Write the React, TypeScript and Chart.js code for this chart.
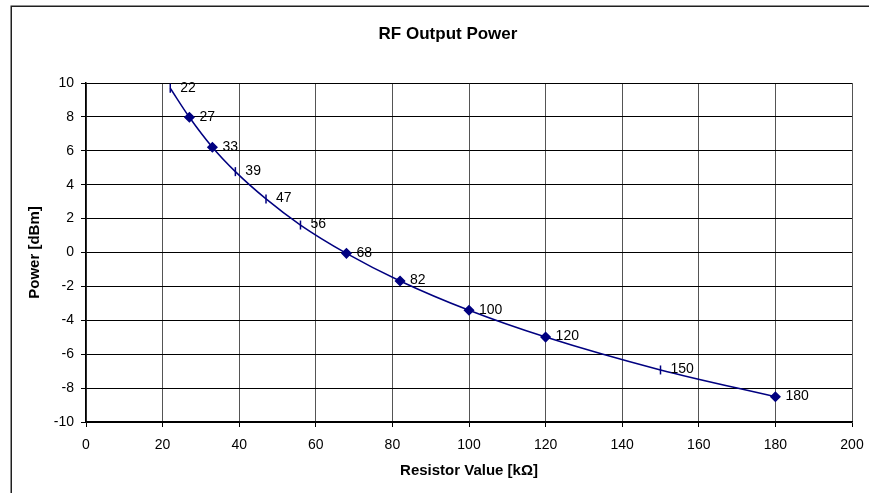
import React, { useEffect, useRef } from "react";
import { Chart, registerables } from "chart.js";

Chart.register(...registerables);

const resistorValues = [22, 27, 33, 39, 47, 56, 68, 82, 100, 120, 150, 180];
const powerValues = [9.69, 7.98, 6.21, 4.77, 3.16, 1.62, -0.05, -1.68, -3.41, -4.99, -6.93, -8.51];
const diamondMarked = [false, true, true, false, false, false, true, true, true, true, false, true];
const pointLabels = resistorValues.map((v) => String(v));

const chartTitle = "RF Output Power";
const xTitle = "Resistor Value [kΩ]";
const yTitle = "Power [dBm]";

const FONT = "'Liberation Sans', Arial, sans-serif";
const NAVY = "#000080";

const framePlugin = {
  id: "frame",
  beforeDraw(chart: any) {
    const ctx = chart.ctx;
    ctx.save();
    ctx.fillStyle = "#ffffff";
    ctx.fillRect(0, 0, chart.width, chart.height);
    ctx.strokeStyle = "#202020";
    ctx.lineWidth = 1.5;
    ctx.strokeRect(11.25, 6.25, 2000, 2000);
    ctx.restore();
  },
  afterDraw(chart: any) {
    const ctx = chart.ctx;
    ctx.save();
    ctx.fillStyle = "#000";
    ctx.font = `bold 17px ${FONT}`;
    ctx.textAlign = "center";
    ctx.textBaseline = "alphabetic";
    ctx.fillText(chartTitle, 448, 38.5);
    ctx.restore();
  },
};

const labelPlugin = {
  id: "pointLabels",
  afterDatasetsDraw(chart: any) {
    const ctx = chart.ctx;
    const meta = chart.getDatasetMeta(0);
    ctx.save();
    ctx.fillStyle = "#000";
    ctx.font = `14px ${FONT}`;
    ctx.textAlign = "left";
    ctx.textBaseline = "middle";
    meta.data.forEach((pt: any, i: number) => {
      ctx.fillText(pointLabels[i], pt.x + 10, pt.y - 0.5);
    });
    ctx.restore();
  },
};

export default function App() {
  const ref = useRef<HTMLCanvasElement | null>(null);

  useEffect(() => {
    if (!ref.current) return;
    const chart = new Chart(ref.current, {
      type: "line",
      data: {
        datasets: [
          {
            data: resistorValues.map((x, i) => ({ x, y: powerValues[i] })),
            borderColor: NAVY,
            borderWidth: 1.5,
            backgroundColor: NAVY,
            pointBackgroundColor: NAVY,
            pointBorderColor: NAVY,
            pointBorderWidth: 1.5,
            pointRadius: 4.5,
            pointStyle: diamondMarked.map((d) => (d ? "rectRot" : "line")) as any,
            pointRotation: diamondMarked.map((d) => (d ? 0 : 90)) as any,
            tension: 0.4,
            cubicInterpolationMode: "monotone",
            fill: false,
          },
        ],
      },
      options: {
        animation: false,
        responsive: false,
        devicePixelRatio: 1,
        layout: { padding: { top: 83, right: 17, left: 0, bottom: 0 } },
        plugins: {
          legend: { display: false },
          title: { display: false },
          tooltip: { enabled: false },
        },
        scales: {
          x: {
            type: "linear",
            min: 0,
            max: 200,
            ticks: {
              stepSize: 20,
              color: "#000",
              font: { family: FONT, size: 14 },
              padding: 10,
              maxRotation: 0,
            },
            grid: { color: "#555", lineWidth: 1, tickLength: 5, tickColor: "#000" },
            border: { color: "#000", width: 1.5 },
            title: {
              display: true,
              text: xTitle,
              color: "#000",
              font: { family: FONT, size: 15, weight: "bold" },
              padding: { top: 0, bottom: 13 },
            },
            afterFit(scale: any) {
              scale.height = 71;
              scale.paddingLeft = 0;
              scale.paddingRight = 0;
            },
          },
          y: {
            type: "linear",
            min: -10,
            max: 10,
            ticks: {
              stepSize: 2,
              color: "#000",
              font: { family: FONT, size: 14 },
              padding: 7,
            },
            grid: { color: "#000", lineWidth: 1, tickLength: 5, tickColor: "#000" },
            border: { color: "#000", width: 1.5 },
            title: {
              display: true,
              text: yTitle,
              color: "#000",
              font: { family: FONT, size: 15, weight: "bold" },
              padding: { top: 26, bottom: 0 },
            },
            afterFit(scale: any) {
              scale.width = 86;
              scale.paddingTop = 0;
              scale.paddingBottom = 0;
            },
          },
        },
      },
      plugins: [framePlugin, labelPlugin],
    });
    return () => chart.destroy();
  }, []);

  return (
    <div style={{ position: "absolute", left: 0, top: 0, width: 869, height: 493, overflow: "hidden" }}>
      <canvas ref={ref} width={869} height={493} style={{ display: "block" }} />
    </div>
  );
}
